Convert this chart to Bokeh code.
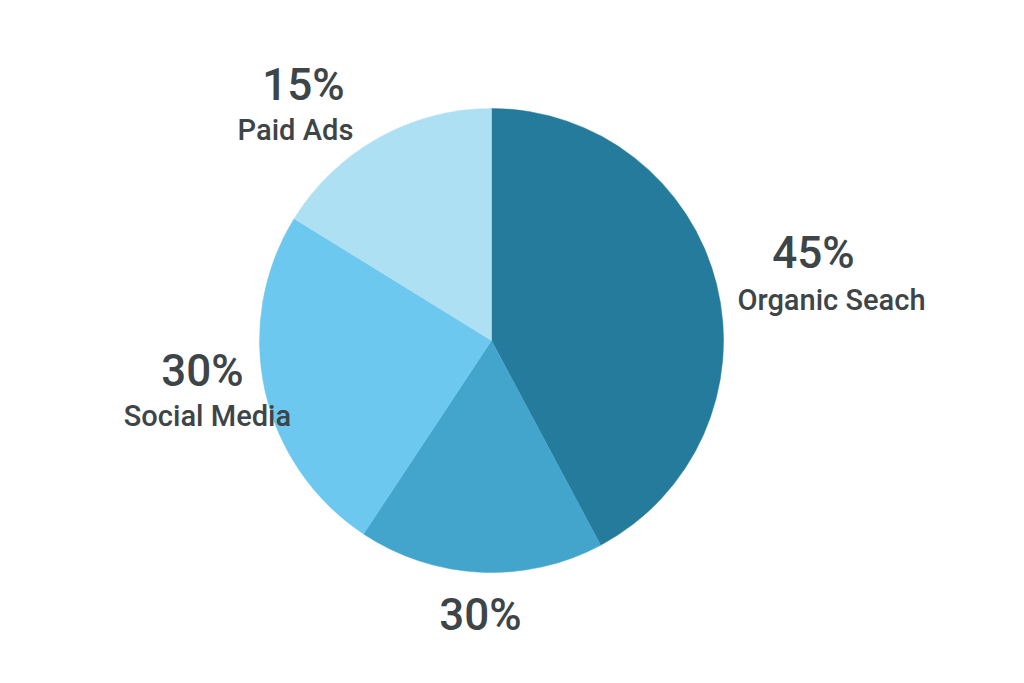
import numpy as np
from bokeh.plotting import figure
from bokeh.models import Range1d, ColumnDataSource
from bokeh.core.properties import value
from bokeh.embed import file_html
from bokeh.resources import INLINE

# Data (slice shares as drawn, and the printed labels)
categories = ["Organic Seach", "", "Social Media", "Paid Ads"]
shares = [42.2, 17.1, 24.5, 16.2]
pct_labels = ["45%", "30%", "30%", "15%"]
colors = ["#247B9B", "#43A4CC", "#6CC8EE", "#AEE0F4"]

W, H = 1008, 667
p = figure(width=W, height=H, output_backend="svg", toolbar_location=None,
           x_range=Range1d(0, W), y_range=Range1d(683 - H, 683),
           min_border=0)
p.axis.visible = False
p.grid.visible = False
p.outline_line_color = None
p.background_fill_color = "white"
p.border_fill_color = "white"

# Pie geometry (layout)
cx, cy, r = 491, 683 - 340, 232
frac = np.array(shares) / np.sum(shares)
cum = np.concatenate([[0], np.cumsum(frac)])
start = np.pi / 2 - cum[:-1] * 2 * np.pi
end = np.pi / 2 - cum[1:] * 2 * np.pi

src = ColumnDataSource(dict(x=[cx] * 4, y=[cy] * 4, start=start, end=end, color=colors))
p.wedge(x="x", y="y", radius=r, radius_units="screen", start_angle="end", end_angle="start",
        direction="anticlock", fill_color="color", line_color="color", line_width=0.5, source=src)

# Label layout (screen positions)
pct_pos = [(813, 252), (480, 614), (202, 370), (303, 84)]
name_pos = [(831, 299), None, (207, 415), (295, 129)]

FONT = value("'Roboto Medium', Roboto")
txt_color = "#3D4548"
p.text(x=[pp[0] for pp in pct_pos], y=[683 - pp[1] for pp in pct_pos], text=pct_labels,
       text_align="center", text_baseline="middle", text_font=FONT,
       text_font_size="44px", text_font_style="normal", text_color=txt_color)

nx = [name_pos[i][0] for i in range(4) if name_pos[i]]
ny = [683 - name_pos[i][1] for i in range(4) if name_pos[i]]
nt = [categories[i] for i in range(4) if name_pos[i]]
p.text(x=nx, y=ny, text=nt, text_align="center", text_baseline="middle",
       text_font=FONT, text_font_size="29px", text_font_style="normal",
       text_color=txt_color)

open("out.html", "w").write(file_html(p, INLINE))
